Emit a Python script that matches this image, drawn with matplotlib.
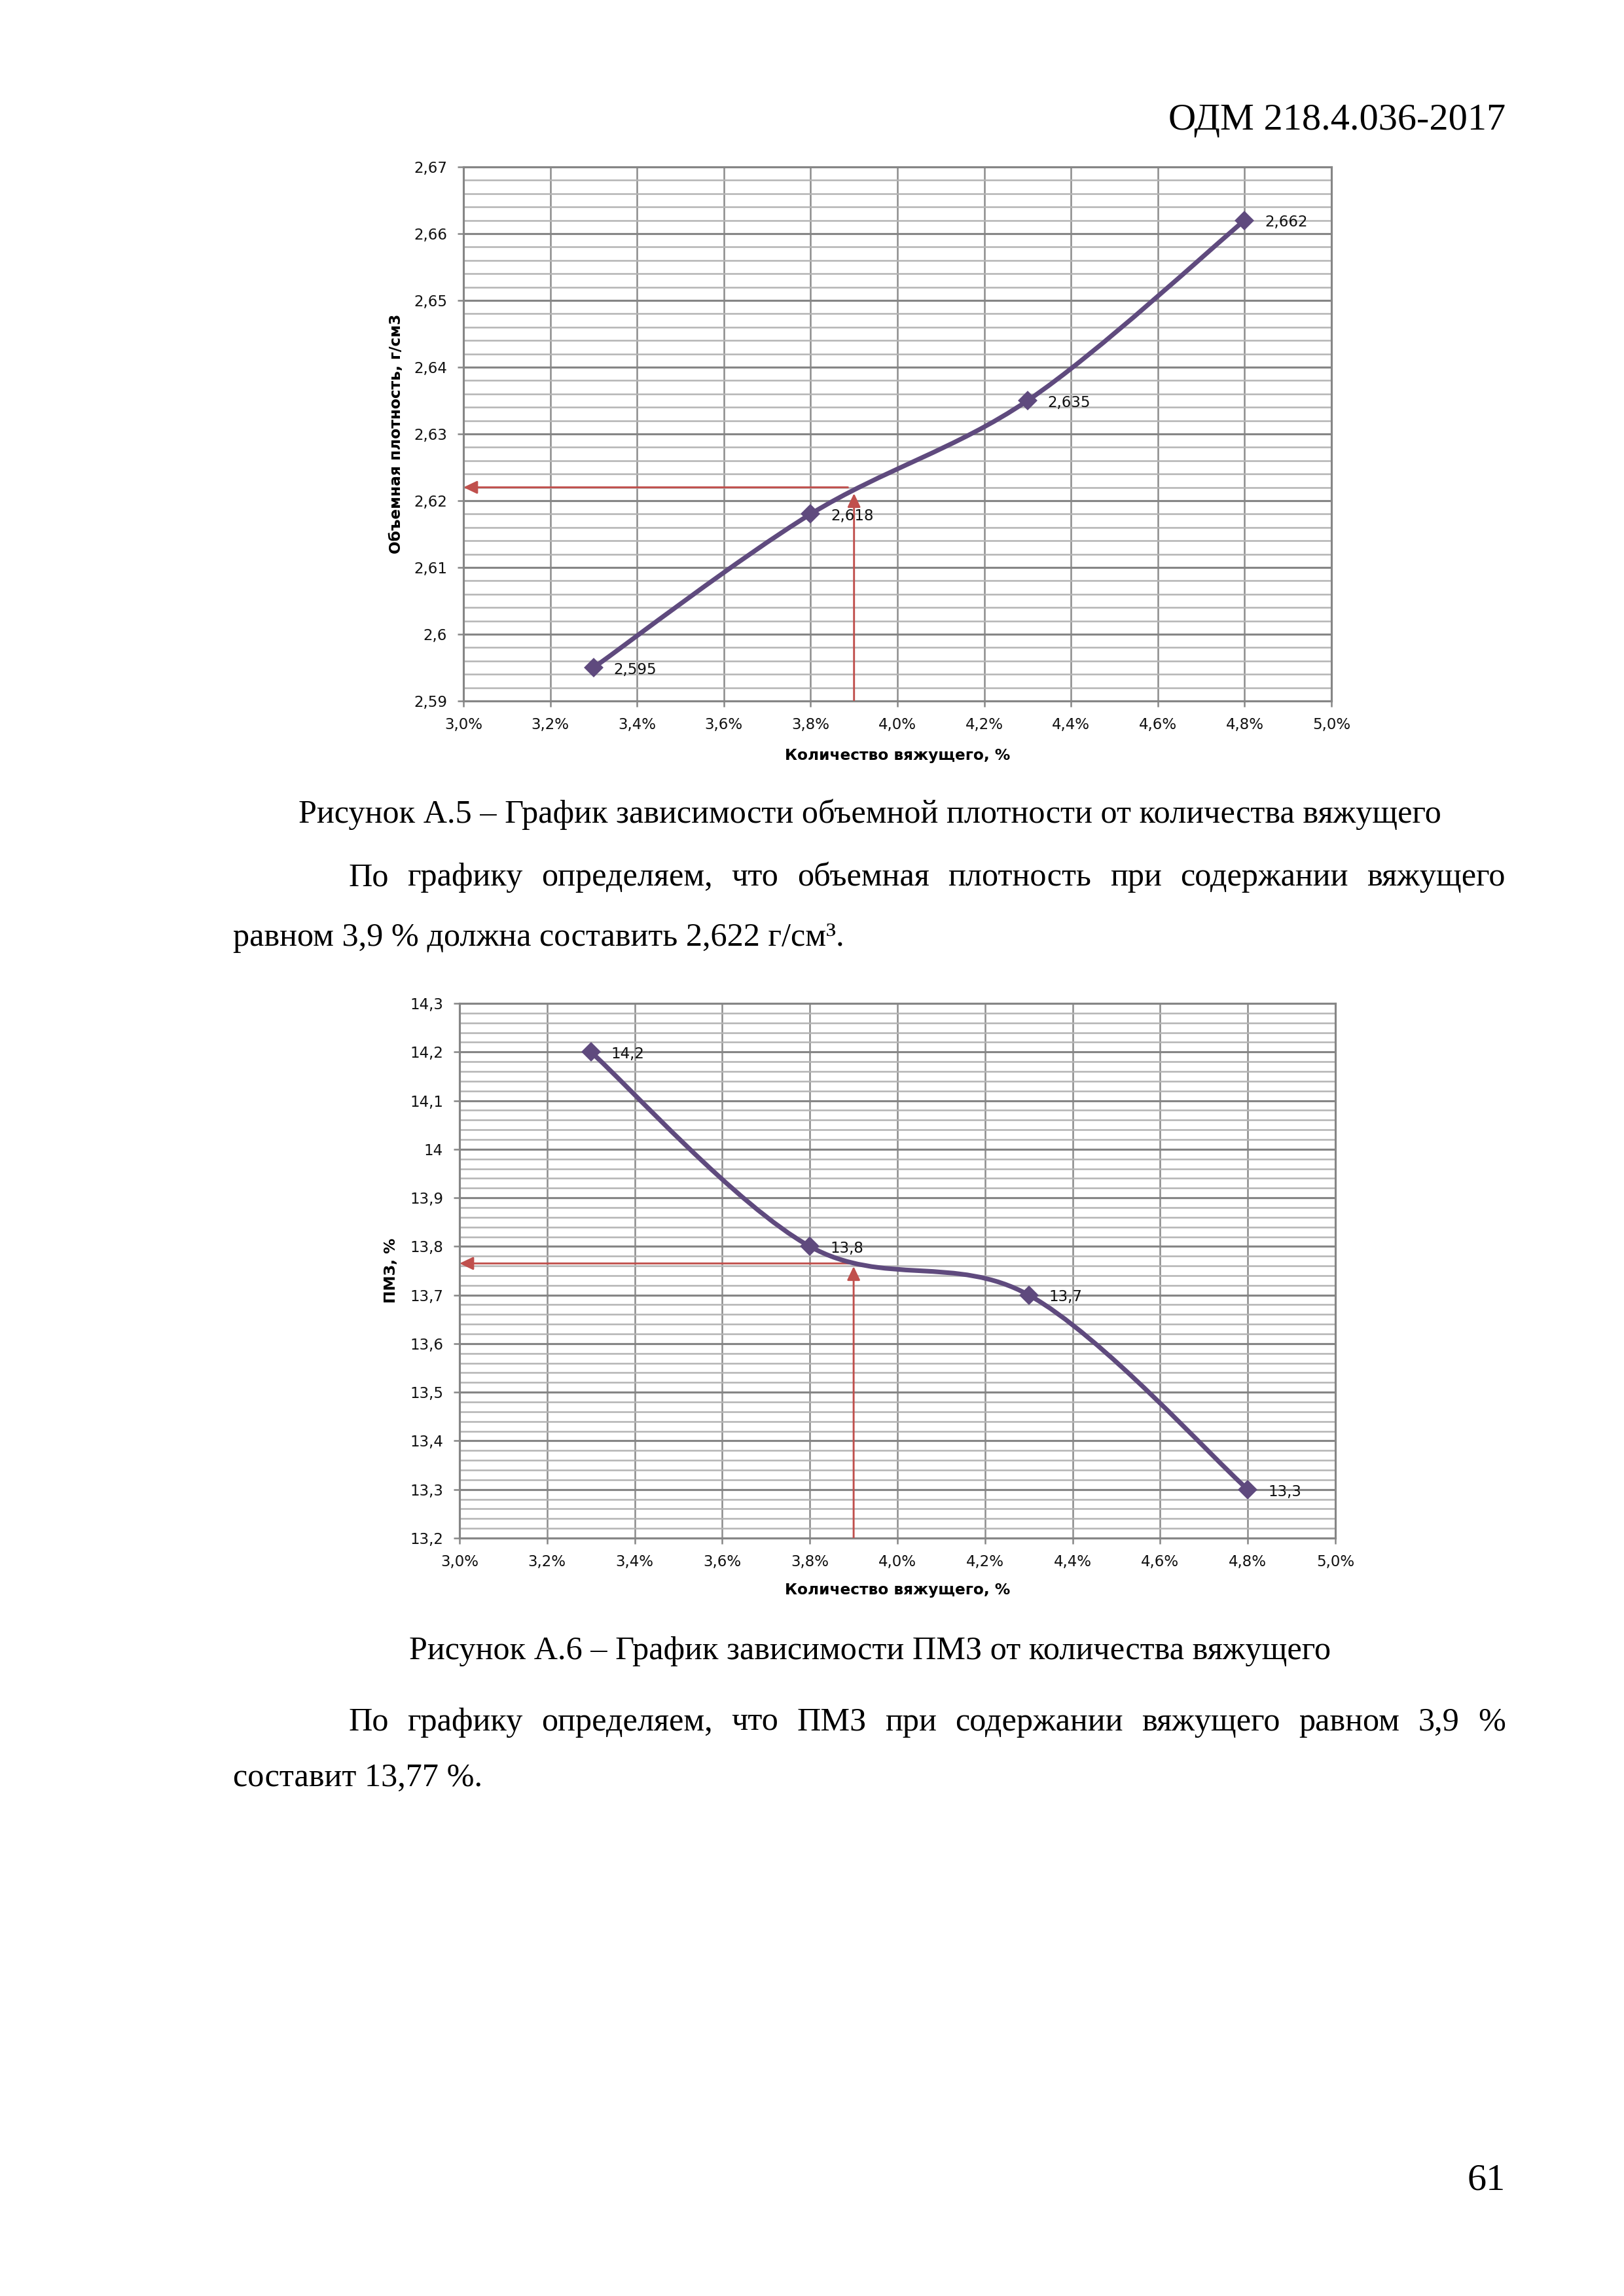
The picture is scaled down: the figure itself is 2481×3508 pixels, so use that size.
import matplotlib
matplotlib.use('Agg')
import matplotlib.pyplot as plt
from matplotlib.path import Path
from matplotlib.patches import PathPatch, FancyArrowPatch
from matplotlib.ticker import MultipleLocator

W, H = 2481, 3508
DPI = 300

# ---------------- data ----------------
binder = [3.3, 3.8, 4.3, 4.8]
density = [2.595, 2.618, 2.635, 2.662]
density_labels = ["2,595", "2,618", "2,635", "2,662"]
pmz = [14.2, 13.8, 13.7, 13.3]
pmz_labels = ["14,2", "13,8", "13,7", "13,3"]

x_ticks = [3.0, 3.2, 3.4, 3.6, 3.8, 4.0, 4.2, 4.4, 4.6, 4.8, 5.0]
x_tick_labels = ["3,0%", "3,2%", "3,4%", "3,6%", "3,8%", "4,0%", "4,2%",
                 "4,4%", "4,6%", "4,8%", "5,0%"]
density_ticks = [2.59, 2.60, 2.61, 2.62, 2.63, 2.64, 2.65, 2.66, 2.67]
density_tick_labels = ["2,59", "2,6", "2,61", "2,62", "2,63", "2,64",
                       "2,65", "2,66", "2,67"]
pmz_ticks = [13.2, 13.3, 13.4, 13.5, 13.6, 13.7, 13.8, 13.9, 14.0, 14.1,
             14.2, 14.3]
pmz_tick_labels = ["13,2", "13,3", "13,4", "13,5", "13,6", "13,7", "13,8",
                   "13,9", "14", "14,1", "14,2", "14,3"]

target_binder = 3.9
target_density = 2.622
target_pmz = 13.765

PURPLE = '#5F4A7E'
RED = '#C0504D'
GRID_MAJ = '#868686'
GRID_MIN = '#B4B4B4'

fig = plt.figure(figsize=(W / DPI, H / DPI), dpi=DPI)
fig.patch.set_facecolor('white')


def fx(px):
    return px / W


def fy(py):
    return 1 - py / H


def smooth_path(xs, ys):
    pts = list(zip(xs, ys))
    n = len(pts)
    verts = [pts[0]]
    codes = [Path.MOVETO]
    for i in range(n - 1):
        p0 = pts[i - 1] if i > 0 else pts[i]
        p1 = pts[i]
        p2 = pts[i + 1]
        p3 = pts[i + 2] if i + 2 < n else pts[i + 1]
        c1 = (p1[0] + (p2[0] - p0[0]) / 6, p1[1] + (p2[1] - p0[1]) / 6)
        c2 = (p2[0] - (p3[0] - p1[0]) / 6, p2[1] - (p3[1] - p1[1]) / 6)
        verts += [c1, c2, p2]
        codes += [Path.CURVE4] * 3
    return Path(verts, codes)


def make_chart(rect_px, yvals, ylabels_pts, yticks, yticklabels, ymin, ymax,
               yminor, ylabel, ylabel_x, xlabel_y, target_y, vtip_y, hstart_x):
    l, t, r, b = rect_px
    ax = fig.add_axes([fx(l), fy(b), (r - l) / W, (b - t) / H])
    ax.set_xlim(3.0, 5.0)
    ax.set_ylim(ymin, ymax)
    ax.set_xticks(x_ticks)
    ax.set_xticklabels(x_tick_labels)
    ax.set_yticks(yticks)
    ax.set_yticklabels(yticklabels)
    ax.yaxis.set_minor_locator(MultipleLocator(yminor))
    ax.grid(which='minor', axis='y', color=GRID_MIN, lw=0.6)
    ax.grid(which='major', axis='y', color=GRID_MAJ, lw=0.75)
    ax.grid(which='major', axis='x', color='#8C8C8C', lw=0.6)
    ax.set_axisbelow(True)
    for s in ax.spines.values():
        s.set_color(GRID_MAJ)
        s.set_linewidth(0.75)
    ax.tick_params(which='major', length=2.2, width=0.6, color=GRID_MAJ,
                   labelsize=5.5, labelcolor='#111111', pad=3.8)
    ax.tick_params(which='minor', length=0)
    for lab in ax.get_xticklabels() + ax.get_yticklabels():
        lab.set_family('DejaVu Sans')

    ax.set_xlabel("Количество вяжущего, %", fontsize=5.6, fontweight='bold',
                  family='DejaVu Sans', va='center')
    ax.xaxis.set_label_coords(0.5, xlabel_y)
    ax.set_ylabel(ylabel, fontsize=5.6, fontweight='bold',
                  family='DejaVu Sans', va='center')
    ax.yaxis.set_label_coords(ylabel_x, 0.5)

    # red guide arrows
    ax.add_patch(FancyArrowPatch((hstart_x, target_y), (3.0, target_y),
                                 arrowstyle='-|>,head_length=0.42,head_width=0.2',
                                 mutation_scale=10, color=RED, lw=0.7,
                                 shrinkA=0, shrinkB=0, zorder=3))
    ax.add_patch(FancyArrowPatch((target_binder, ymin), (target_binder, vtip_y),
                                 arrowstyle='-|>,head_length=0.42,head_width=0.2',
                                 mutation_scale=10, color=RED, lw=0.7,
                                 shrinkA=0, shrinkB=0, zorder=3))

    # smoothed series line
    ax.add_patch(PathPatch(smooth_path(binder, yvals), facecolor='none',
                           edgecolor=PURPLE, lw=1.7, capstyle='round',
                           joinstyle='round', zorder=4))
    ax.plot(binder, yvals, linestyle='none', marker='D', ms=4.2,
            color=PURPLE, zorder=5, clip_on=False)
    for xv, yv, txt in zip(binder, yvals, ylabels_pts):
        ax.annotate(txt, (xv, yv), xytext=(7.4, -0.8), textcoords='offset points',
                    ha='left', va='center', fontsize=5.5, family='DejaVu Sans',
                    color='#111111', zorder=6)
    return ax


make_chart((708, 255, 2034, 1071), density, density_labels, density_ticks,
           density_tick_labels, 2.59, 2.67, 0.002,
           "Объемная плотность, г/см3", -0.077, -0.102,
           target_density, 2.6211, 3.886)

make_chart((702, 1533, 2040, 2350), pmz, pmz_labels, pmz_ticks,
           pmz_tick_labels, 13.2, 14.3, 0.02,
           "ПМЗ, %", -0.078, -0.097,
           target_pmz, 13.759, 3.889)

# ---------------- page text ----------------
HEAD = dict(family='Liberation Serif', fontsize=14, color='black')
BODY = dict(family='Liberation Serif', fontsize=12.05, color='black')
LEFT, RIGHT = 356, 2300
INDENT = 532

fig.text(fx(RIGHT), fy(198), "ОДМ 218.4.036-2017", ha='right', va='baseline', **HEAD)

fig.text(fx(1329), fy(1257),
         "Рисунок А.5 – График зависимости объемной плотности от количества вяжущего",
         ha='center', va='baseline', **BODY)

renderer = fig.canvas.get_renderer()


def justified(line, x0, x1, ybase):
    words = line.split(' ')
    objs = [fig.text(0, 0, w, ha='left', va='baseline', **BODY) for w in words]
    widths = [o.get_window_extent(renderer).width for o in objs]
    gap = (x1 - x0 - sum(widths)) / (len(words) - 1)
    x = x0
    for o, w in zip(objs, widths):
        o.set_position((fx(x), fy(ybase)))
        x += w + gap


justified("По графику определяем, что объемная плотность при содержании вяжущего",
          INDENT, RIGHT, 1353)
fig.text(fx(LEFT), fy(1445), "равном 3,9 % должна составить 2,622 г/см³.",
         ha='left', va='baseline', **BODY)

fig.text(fx(1329), fy(2535),
         "Рисунок А.6 – График зависимости ПМЗ от количества вяжущего",
         ha='center', va='baseline', **BODY)

justified("По графику определяем, что ПМЗ при содержании вяжущего равном 3,9 %",
          INDENT, RIGHT, 2644)
fig.text(fx(LEFT), fy(2729), "составит 13,77 %.", ha='left', va='baseline', **BODY)

fig.text(fx(RIGHT), fy(3346), "61", ha='right', va='baseline', **HEAD)

fig.savefig('out.png', dpi=DPI, facecolor='white')
